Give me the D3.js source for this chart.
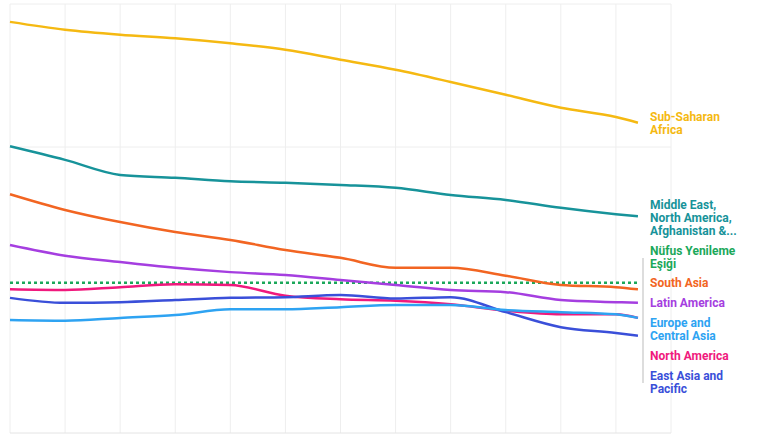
<!DOCTYPE html>
<html><head><meta charset="utf-8">
<script src="https://cdn.jsdelivr.net/npm/d3@7"></script>
<style>body{margin:0;background:#fff}</style>
</head><body>
<script>
var years = [1965, 1970, 1975, 1980, 1985, 1990, 1995, 2000, 2005, 2010, 2015, 2020, 2022];
var subSaharan = [5.75, 5.64, 5.57, 5.52, 5.45, 5.36, 5.22, 5.08, 4.91, 4.73, 4.55, 4.42, 4.34];
var middleEast = [4.01, 3.82, 3.61, 3.57, 3.52, 3.50, 3.47, 3.43, 3.33, 3.26, 3.15, 3.06, 3.03];
var southAsia = [3.34, 3.12, 2.95, 2.81, 2.70, 2.56, 2.45, 2.31, 2.31, 2.20, 2.07, 2.04, 2.01];
var latinAmerica = [2.63, 2.48, 2.39, 2.31, 2.25, 2.21, 2.14, 2.07, 2.00, 1.97, 1.86, 1.83, 1.82];
var northAmerica = [2.01, 2.00, 2.04, 2.08, 2.07, 1.92, 1.87, 1.85, 1.80, 1.71, 1.66, 1.66, 1.61];
var eastAsia = [1.89, 1.82, 1.83, 1.86, 1.89, 1.90, 1.93, 1.88, 1.90, 1.69, 1.48, 1.40, 1.36];
var europe = [1.58, 1.57, 1.61, 1.65, 1.73, 1.73, 1.76, 1.79, 1.79, 1.72, 1.69, 1.66, 1.61];
var replacement = 2.1;

var seriesValues = [subSaharan, middleEast, southAsia, latinAmerica, northAmerica, eastAsia, europe];
var colors = ["#f5b912", "#17939a", "#f26522", "#a53ee0", "#f0197d", "#3a4fd9", "#2ea3f2"];

var labels = [
  {lines: ["Sub-Saharan", "Africa"], y: 117, c: "#f5b912"},
  {lines: ["Middle East,", "North America,", "Afghanistan &..."], y: 205, c: "#17939a"},
  {lines: ["Nüfus Yenileme", "Eşiği"], y: 251, c: "#1ba85a"},
  {lines: ["South Asia"], y: 283, c: "#f26522"},
  {lines: ["Latin America"], y: 303, c: "#a53ee0"},
  {lines: ["Europe and", "Central Asia"], y: 323, c: "#2ea3f2"},
  {lines: ["North America"], y: 356, c: "#f0197d"},
  {lines: ["East Asia and", "Pacific"], y: 376, c: "#3a4fd9"}
];

var svg = d3.select("body").append("svg").attr("width", 768).attr("height", 438);
var x = d3.scaleLinear().domain([1965, 2025]).range([10, 671]);
var y = d3.scaleLinear().domain([0, 6]).range([433, 4]);

svg.append("g").selectAll("line").data(d3.range(1965, 2026, 5)).join("line")
  .attr("x1", d => x(d)).attr("x2", d => x(d)).attr("y1", 4).attr("y2", 433)
  .attr("stroke", "#eeeeee");
svg.append("g").selectAll("line").data([4, 6]).join("line")
  .attr("x1", 10).attr("x2", 671).attr("y1", d => y(d)).attr("y2", d => y(d))
  .attr("stroke", "#eeeeee");
svg.append("line").attr("x1", 10).attr("x2", 671).attr("y1", 433).attr("y2", 433).attr("stroke", "#e4e4e4");

svg.append("line").attr("x1", x(1965)).attr("x2", x(2022)).attr("y1", y(replacement)).attr("y2", y(replacement))
  .attr("stroke", "#1ba85a").attr("stroke-width", 2.5).attr("stroke-dasharray", "3,3");

var line = d3.line().x((d, i) => x(years[i])).y(d => y(d)).curve(d3.curveMonotoneX);
svg.append("g").selectAll("path").data(seriesValues).join("path")
  .attr("d", line).attr("fill", "none").attr("stroke", (d, i) => colors[i]).attr("stroke-width", 2.5);

// bracket
svg.append("line").attr("x1", 643).attr("x2", 643).attr("y1", 258).attr("y2", 383).attr("stroke", "#bbb");

var g = svg.append("g");
labels.forEach(function(l) {
  l.lines.forEach(function(t, j) {
    g.append("text").attr("x", 650).attr("y", l.y + j * 13 + 4)
      .attr("fill", l.c).attr("font-family", "Roboto, sans-serif").attr("font-weight", 700)
      .attr("font-size", 12).text(t);
  });
});
</script>
</body></html>
